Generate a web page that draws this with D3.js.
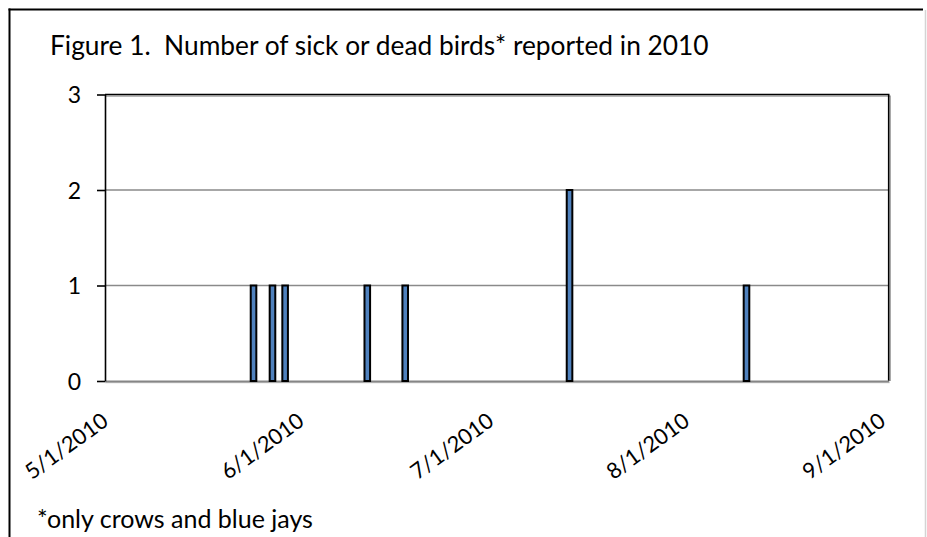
<!DOCTYPE html>
<html>
<head>
<meta charset="utf-8">
<script src="https://cdn.jsdelivr.net/npm/d3@7"></script>
<style>
  html, body { margin: 0; padding: 0; background: #fff; }
  svg { display: block; }
  text { font-family: Lato, "Open Sans", "Liberation Sans", sans-serif; fill: #000; }
</style>
</head>
<body>
<svg id="chart" width="927" height="537"></svg>
<script>
// Sick or dead bird reports, 2010 (crows and blue jays)
const reportDates = ["2010-05-24", "2010-05-27", "2010-05-29", "2010-06-11", "2010-06-17", "2010-07-13", "2010-08-10"];
const birdCounts = [1, 1, 1, 1, 1, 2, 1];
const yTicks = [0, 1, 2, 3];
const xTickLabels = ["5/1/2010", "6/1/2010", "7/1/2010", "8/1/2010", "9/1/2010"];
const titleText = "Figure 1.  Number of sick or dead birds* reported in 2010";
const noteText = "*only crows and blue jays";

const svg = d3.select("#chart");
const W = 927, H = 537;
const plot = { left: 105, right: 888.7, top: 94.5, bottom: 381 };

const parseIso = d3.utcParse("%Y-%m-%d");
const parseLabel = d3.utcParse("%m/%d/%Y");
const records = reportDates.map((d, i) => ({ date: parseIso(d), count: birdCounts[i] }));
const tickDates = xTickLabels.map(parseLabel);

// Date axis: one slot per day from 5/1 through 9/1 inclusive
const x = d3.scaleUtc()
  .domain([tickDates[0], d3.utcDay.offset(tickDates[tickDates.length - 1], 1)])
  .range([plot.left, plot.right]);
const dayW = x(d3.utcDay.offset(tickDates[0], 1)) - x(tickDates[0]);
const slotCenter = d => x(d) + dayW / 2;

const y = d3.scaleLinear().domain([0, 3]).range([plot.bottom, plot.top]);

// Outer chart frame
svg.append("line").attr("x1", 9.5).attr("x2", 9.5).attr("y1", 8.5).attr("y2", H)
  .attr("stroke", "#000").attr("stroke-width", 2);
svg.append("line").attr("x1", 8.5).attr("x2", 923).attr("y1", 9.5).attr("y2", 9.5)
  .attr("stroke", "#000").attr("stroke-width", 2);
svg.append("line").attr("x1", 925.5).attr("x2", 925.5).attr("y1", 10).attr("y2", H)
  .attr("stroke", "#d4d4d4").attr("stroke-width", 1.5);

// Fit a text element to a given width
function fitWidth(sel, target) {
  const fs = parseFloat(sel.attr("font-size"));
  const w = sel.node().getComputedTextLength();
  sel.attr("font-size", fs * target / w);
}

// Title
const title = svg.append("text")
  .attr("x", 50).attr("y", 55)
  .attr("font-size", 27)
  .style("white-space", "pre")
  .attr("xml:space", "preserve")
  .text(titleText);
fitWidth(title, 659);

// Horizontal gridlines
svg.append("g").selectAll("line")
  .data(yTicks.filter(v => v > 0 && v < 3))
  .join("line")
  .attr("x1", plot.left).attr("x2", plot.right)
  .attr("y1", d => y(d)).attr("y2", d => y(d))
  .attr("stroke", "#8a8a8a").attr("stroke-width", 1.5);

// Plot-area border (top and right) with a soft shadow
svg.append("path")
  .attr("d", `M${plot.left},${plot.top + 1.6}H${plot.right + 1.6}V${plot.bottom}`)
  .attr("fill", "none").attr("stroke", "#a0a0a0").attr("stroke-width", 1.2);
svg.append("path")
  .attr("d", `M${plot.left},${plot.top}H${plot.right}V${plot.bottom}`)
  .attr("fill", "none").attr("stroke", "#000").attr("stroke-width", 1.6);

// Category (date) axis line
svg.append("line")
  .attr("x1", plot.left).attr("x2", plot.right + 1)
  .attr("y1", plot.bottom + 1.6).attr("y2", plot.bottom + 1.6)
  .attr("stroke", "#cfcfcf").attr("stroke-width", 1.2);

const xAxis = svg.append("g")
  .attr("transform", `translate(0,${plot.bottom})`)
  .call(d3.axisBottom(x).tickValues(tickDates).tickSize(0).tickSizeOuter(0)
    .tickFormat((d, i) => xTickLabels[i]));
xAxis.select(".domain").attr("stroke", "#868686").attr("stroke-width", 1.8);
xAxis.selectAll(".tick text")
  .attr("font-family", null)
  .attr("font-size", 22)
  .attr("text-anchor", "end")
  .attr("x", null).attr("y", null).attr("dy", null)
  .attr("transform", `translate(${dayW / 2 + 1},43) rotate(-36)`)
  .each(function () { fitWidth(d3.select(this), 96); });

// Bars
svg.append("g").selectAll("rect")
  .data(records)
  .join("rect")
  .attr("x", d => slotCenter(d.date) - 2.8)
  .attr("width", 5.6)
  .attr("y", d => y(d.count))
  .attr("height", d => y(0) - y(d.count))
  .attr("fill", "#4f81bd")
  .attr("stroke", "#000").attr("stroke-width", 2);

// Value axis
const yAxis = svg.append("g")
  .attr("transform", `translate(${plot.left},0)`)
  .call(d3.axisLeft(y).tickValues(yTicks).tickSize(8).tickSizeOuter(0).tickFormat(d3.format("d")));
yAxis.select(".domain").attr("stroke", "#000").attr("stroke-width", 1.6);
yAxis.selectAll(".tick line").attr("stroke", "#000").attr("stroke-width", 1.6);
yAxis.selectAll(".tick text")
  .attr("font-family", null)
  .attr("font-size", 23)
  .attr("x", -24)
  .attr("dy", "0.36em");

// Footnote
const note = svg.append("text")
  .attr("x", 37).attr("y", 528)
  .attr("font-size", 22)
  .text(noteText);
fitWidth(note, 276);
</script>
</body>
</html>
